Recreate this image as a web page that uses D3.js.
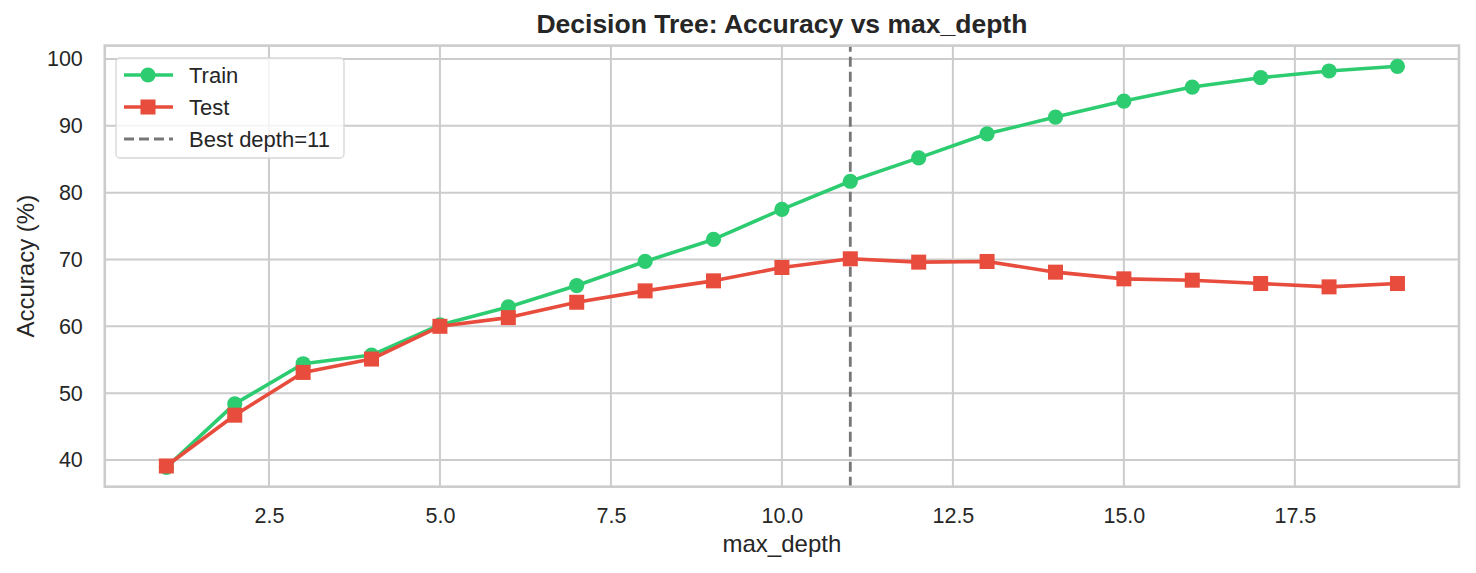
<!DOCTYPE html>
<meta charset="utf-8">
<html>
<head>
  <title>Decision Tree: Accuracy vs max_depth</title>
  <style>
    body { margin: 0; background: #fff; font-family: "Liberation Sans", Arial, sans-serif; }
    .grid line { stroke: #cccccc; stroke-width: 2; }
    .tick text { fill: #262626; font-size: 21.5px; font-family: "Liberation Sans", Arial, sans-serif; }
  </style>
</head>
<body>
<svg id="chart" width="1476" height="573"></svg>

<script src="https://d3js.org/d3.v7.min.js"></script>
<script>

// data
const depths = [1, 2, 3, 4, 5, 6, 7, 8, 9, 10, 11, 12, 13, 14, 15, 16, 17, 18, 19];
const trainAcc = [38.9, 48.4, 54.4, 55.7, 60.2, 62.9, 66.1, 69.7, 73.0, 77.5, 81.7, 85.2, 88.8, 91.3, 93.7, 95.8, 97.2, 98.2, 98.9];
const testAcc = [39.1, 46.7, 53.1, 55.1, 60.0, 61.3, 63.6, 65.3, 66.8, 68.8, 70.1, 69.6, 69.7, 68.1, 67.1, 66.9, 66.4, 65.9, 66.4];
const bestDepth = 11;
const xTicks = [2.5, 5.0, 7.5, 10.0, 12.5, 15.0, 17.5];
const yTicks = [40, 50, 60, 70, 80, 90, 100];

const svg = d3.select("#chart");
const W = 1476, H = 573;
const margin = {left: 104.8, right: W - 1459, top: 45.6, bottom: H - 486.7};

const x = d3.scaleLinear().domain([0.1, 19.9]).range([margin.left, W - margin.right]);
const y = d3.scaleLinear().domain([36, 102]).range([H - margin.bottom, margin.top]);

const green = "#2ecc71", red = "#e74c3c", grey = "#777777";
const lw = 3.6, dotR = 7.6, sq = 15;

// grid
const grid = svg.append("g").attr("class", "grid");
grid.selectAll("line.v").data(xTicks).join("line")
  .attr("x1", d => x(d)).attr("x2", d => x(d))
  .attr("y1", y.range()[0]).attr("y2", y.range()[1]);
grid.selectAll("line.h").data(yTicks).join("line")
  .attr("y1", d => y(d)).attr("y2", d => y(d))
  .attr("x1", x.range()[0]).attr("x2", x.range()[1]);

// axes (labels only, whitegrid style has no tick marks)
const xAxis = svg.append("g")
  .attr("transform", `translate(0,${y.range()[0]})`)
  .call(d3.axisBottom(x).tickValues(xTicks).tickFormat(d3.format(".1f")).tickSize(0).tickPadding(21));
xAxis.select(".domain").remove();

const yAxis = svg.append("g")
  .attr("transform", `translate(${x.range()[0]},0)`)
  .call(d3.axisLeft(y).tickValues(yTicks).tickSize(0).tickPadding(22));
yAxis.select(".domain").remove();

// best depth line
svg.append("line")
  .attr("x1", x(bestDepth)).attr("x2", x(bestDepth))
  .attr("y1", y.range()[0]).attr("y2", y.range()[1])
  .attr("stroke", grey).attr("stroke-width", 2.8)
  .attr("stroke-dasharray", "10,5");

// lines + markers
const line = d3.line().x((d, i) => x(depths[i])).y(d => y(d));

svg.append("path").datum(trainAcc)
  .attr("fill", "none").attr("stroke", green).attr("stroke-width", lw)
  .attr("stroke-linejoin", "round").attr("d", line);
svg.append("g").selectAll("circle").data(trainAcc).join("circle")
  .attr("cx", (d, i) => x(depths[i])).attr("cy", d => y(d))
  .attr("r", dotR).attr("fill", green);

svg.append("path").datum(testAcc)
  .attr("fill", "none").attr("stroke", red).attr("stroke-width", lw)
  .attr("stroke-linejoin", "round").attr("d", line);
svg.append("g").selectAll("rect").data(testAcc).join("rect")
  .attr("x", (d, i) => x(depths[i]) - sq / 2).attr("y", d => y(d) - sq / 2)
  .attr("width", sq).attr("height", sq).attr("fill", red);

// frame
svg.append("rect")
  .attr("x", x.range()[0]).attr("y", y.range()[1])
  .attr("width", x.range()[1] - x.range()[0]).attr("height", y.range()[0] - y.range()[1])
  .attr("fill", "none").attr("stroke", "#cccccc").attr("stroke-width", 2.6);

// titles
svg.append("text")
  .attr("x", (x.range()[0] + x.range()[1]) / 2).attr("y", 33)
  .attr("text-anchor", "middle").attr("font-weight", "bold")
  .attr("font-size", "26.5px").attr("fill", "#262626")
  .text("Decision Tree: Accuracy vs max_depth");

svg.append("text")
  .attr("x", (x.range()[0] + x.range()[1]) / 2).attr("y", 552)
  .attr("text-anchor", "middle").attr("font-size", "24px").attr("fill", "#262626")
  .text("max_depth");

svg.append("text")
  .attr("transform", `translate(34,${(y.range()[0] + y.range()[1]) / 2}) rotate(-90)`)
  .attr("text-anchor", "middle").attr("font-size", "24px").attr("fill", "#262626")
  .text("Accuracy (%)");

// legend
const legend = svg.append("g").attr("transform", "translate(116,58)");
legend.append("rect")
  .attr("width", 228).attr("height", 100).attr("rx", 4)
  .attr("fill", "rgba(255,255,255,0.8)").attr("stroke", "#d6d6d6").attr("stroke-width", 1.3);

const items = [
  {label: "Train", color: green, marker: "circle"},
  {label: "Test", color: red, marker: "square"},
  {label: "Best depth=" + bestDepth, color: grey, marker: "dash"}
];
const row = legend.selectAll("g.item").data(items).join("g")
  .attr("transform", (d, i) => `translate(0,${17 + i * 32})`);
row.append("line")
  .attr("x1", 8).attr("x2", 57).attr("y1", 0).attr("y2", 0)
  .attr("stroke", d => d.color)
  .attr("stroke-width", d => d.marker === "dash" ? 2.8 : lw)
  .attr("stroke-dasharray", d => d.marker === "dash" ? "10,5" : null);
row.filter(d => d.marker === "circle").append("circle")
  .attr("cx", 32).attr("cy", 0).attr("r", dotR).attr("fill", d => d.color);
row.filter(d => d.marker === "square").append("rect")
  .attr("x", 32 - sq / 2).attr("y", -sq / 2).attr("width", sq).attr("height", sq)
  .attr("fill", d => d.color);
row.append("text")
  .attr("x", 73).attr("y", 8)
  .attr("font-size", "22px").attr("fill", "#262626")
  .text(d => d.label);

</script>
</body>
</html>
